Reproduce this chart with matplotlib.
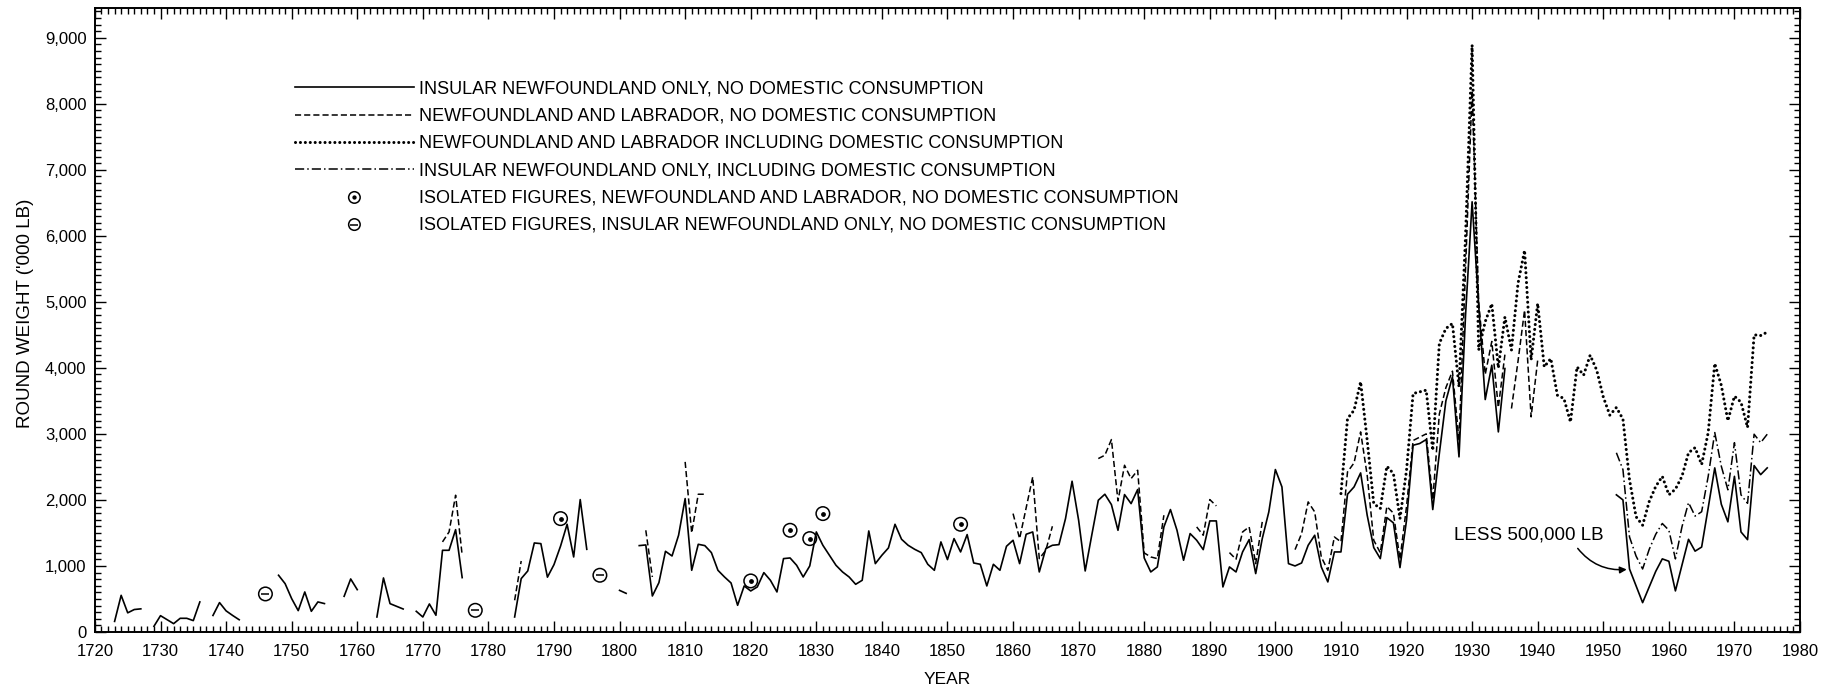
import numpy as np
import matplotlib
matplotlib.use("Agg")
import matplotlib.pyplot as plt
from matplotlib.ticker import MultipleLocator, FuncFormatter

# Insular Newfoundland only, no domestic consumption (solid)
insular_starts = [1723, 1729, 1738, 1748, 1758, 1763, 1769, 1784, 1800, 1803, 1952]
insular_vals = [
    [160, 555, 290, 340, 350],
    [86, 247, 187, 126, 207, 207, 172, 455],
    [250, 445, 320, 250, 185],
    [859, 732, 505, 323, 606, 313, 455, 430],
    [540, 803, 641],
    [227, 818, 429, 389, 348],
    [313, 227, 424, 253, 1237, 1237, 1550, 823],
    [227, 808, 924, 1348, 1338, 830, 1020, 1300, 1631, 1136, 2005, 1252],
    [630, 585],
    [1308, 1318, 545, 747, 1222, 1151, 1465, 2020, 934, 1328,
     1308, 1202, 934, 833, 742, 404, 697, 621, 682, 899,
     783, 606, 1111, 1121, 1010, 833, 1000, 1515, 1313, 1162,
     1010, 909, 833, 722, 783, 1530, 1035, 1162, 1273, 1631,
     1404, 1313, 1252, 1202, 1025, 934, 1364, 1096, 1414, 1212,
     1475, 1045, 1025, 697, 1025, 934, 1298, 1389, 1035, 1480,
     1515, 909, 1263, 1313, 1323, 1717, 2283, 1692, 924, 1465,
     1995, 2086, 1929, 1540, 2081, 1944, 2157, 1121, 909, 985,
     1591, 1854, 1540, 1086, 1490, 1389, 1247, 1682, 1682, 682,
     985, 909, 1212, 1399, 884, 1414, 1818, 2460, 2197, 1035,
     1000, 1045, 1313, 1465, 985, 758, 1212, 1212, 2086, 2197,
     2409, 1768, 1278, 1111, 1732, 1652, 975, 1692, 2828, 2854,
     2914, 1854, 2700, 3500, 3864, 2652, 4800, 6515, 4950, 3520,
     4040, 3030, 3990],
    [2077, 2000, 954, 700, 444, 680, 918, 1107, 1071, 622,
     1010, 1403, 1224, 1286, 1880, 2485, 1934, 1668, 2357, 1515,
     1398, 2520, 2383, 2485],
]

# Newfoundland and Labrador, no domestic consumption (dashed)
nl_lab_starts = [1773, 1784, 1804, 1810, 1860, 1873, 1888, 1893, 1903, 1936]
nl_lab_vals = [
    [1364, 1515, 2071, 1162],
    [480, 1075],
    [1540, 833],
    [2576, 1500, 2086, 2086],
    [1793, 1414, 1880, 2348, 1111, 1237, 1601],
    [2626, 2677, 2914, 1985, 2525, 2323, 2449, 1197, 1136, 1111, 1768],
    [1591, 1465, 2005, 1909],
    [1202, 1101, 1515, 1591, 1035, 1667],
    [1247, 1490, 1970, 1818, 1136, 934, 1439, 1364, 2424, 2561,
     3030, 2374, 1389, 1200, 1900, 1800, 1100, 1900, 2900, 2950,
     3000, 2000, 3300, 3700, 3950, 2900, 5500, 8200, 5000, 3900,
     4400, 3400, 4200],
    [3384, 4100, 4874, 3258, 4116],
]

# Newfoundland and Labrador including domestic consumption (dotted)
nl_lab_dom_starts = [1910]
nl_lab_dom_vals = [
    [2096, 3232, 3358, 3788, 2904, 1944, 1869, 2510, 2399, 1717,
     2449, 3611, 3636, 3662, 2750, 4369, 4596, 4672, 3712, 6000,
     8890, 4270, 4700, 4970, 4000, 4770, 4270, 5280, 5780, 4120,
     4975, 4015, 4141, 3586, 3535, 3180, 4015, 3889, 4192, 3965,
     3560, 3283, 3400, 3224, 2306, 1745, 1617, 1974, 2204, 2357,
     2077, 2163, 2357, 2714, 2791, 2536, 3020, 4066, 3735, 3199,
     3571, 3480, 3097, 4500, 4490, 4541],
]

# Insular Newfoundland only, including domestic consumption (dash-dot)
insular_dom_starts = [1952]
insular_dom_vals = [
    [2714, 2459, 1439, 1150, 954, 1250, 1480, 1643, 1541, 1107,
     1592, 1959, 1755, 1821, 2357, 3020, 2510, 2153, 2867, 2077,
     1949, 2995, 2867, 2995],
]

# isolated figures
iso_nl_lab_years = [1791, 1820, 1826, 1829, 1831, 1852]
iso_nl_lab_vals = [1717, 773, 1540, 1414, 1793, 1631]
iso_insular_years = [1746, 1778, 1797]
iso_insular_vals = [576, 328, 859]

labels = [
    "INSULAR NEWFOUNDLAND ONLY, NO DOMESTIC CONSUMPTION",
    "NEWFOUNDLAND AND LABRADOR, NO DOMESTIC CONSUMPTION",
    "NEWFOUNDLAND AND LABRADOR INCLUDING DOMESTIC CONSUMPTION",
    "INSULAR NEWFOUNDLAND ONLY, INCLUDING DOMESTIC CONSUMPTION",
    "ISOLATED FIGURES, NEWFOUNDLAND AND LABRADOR, NO DOMESTIC CONSUMPTION",
    "ISOLATED FIGURES, INSULAR NEWFOUNDLAND ONLY, NO DOMESTIC CONSUMPTION",
]


def join_segments(starts, vals):
    # put the segments after one another with NaN gaps between them
    xs, ys = [], []
    for s, v in zip(starts, vals):
        xs.extend(range(s, s + len(v)))
        ys.extend(v)
        xs.append(np.nan)
        ys.append(np.nan)
    return np.array(xs, dtype=float), np.array(ys, dtype=float)


plt.rcParams["font.family"] = ["Liberation Sans", "DejaVu Sans"]

fig = plt.figure(figsize=(18.36, 6.9), dpi=100)
ax = fig.add_axes([0.0517, 0.0841, 0.9287, 0.9043])

x, y = join_segments(insular_starts, insular_vals)
l1, = ax.plot(x, y, color="black", lw=1.2, ls="-")

x, y = join_segments(nl_lab_starts, nl_lab_vals)
l2, = ax.plot(x, y, color="black", lw=1.1, ls=(0, (4, 2)))

x, y = join_segments(nl_lab_dom_starts, nl_lab_dom_vals)
l3, = ax.plot(x, y, color="black", lw=2.2, ls=(0, (0.01, 1.6)),
              dash_capstyle="round")

x, y = join_segments(insular_dom_starts, insular_dom_vals)
l4, = ax.plot(x, y, color="black", lw=1.1, ls=(0, (6, 2, 1, 2)))

c1 = ax.scatter(iso_nl_lab_years, iso_nl_lab_vals, s=95, facecolors="none",
                edgecolors="black", linewidths=1.1, zorder=3)
d1 = ax.scatter(iso_nl_lab_years, iso_nl_lab_vals, s=6, color="black", zorder=3)
c2 = ax.scatter(iso_insular_years, iso_insular_vals, s=95, facecolors="none",
                edgecolors="black", linewidths=1.1, zorder=3)
d2 = ax.scatter(iso_insular_years, iso_insular_vals, s=40, marker="_",
                color="black", linewidths=1.1, zorder=3)

ax.set_xlim(1720, 1980)
ax.set_ylim(0, 9450)
ax.xaxis.set_major_locator(MultipleLocator(10))
ax.xaxis.set_minor_locator(MultipleLocator(1))
ax.yaxis.set_major_locator(MultipleLocator(1000))
ax.yaxis.set_minor_locator(MultipleLocator(100))
ax.yaxis.set_major_formatter(FuncFormatter(lambda v, p: f"{int(v):,}"))
ax.tick_params(which="both", direction="in", top=True, right=True,
               labelsize=12, width=1.0)
ax.tick_params(axis="x", pad=9)
ax.tick_params(axis="y", pad=6)
ax.tick_params(which="major", length=8)
ax.tick_params(which="minor", length=4)
for sp in ax.spines.values():
    sp.set_linewidth(1.4)

ax.set_xlabel("YEAR", fontsize=12.5)
ax.set_ylabel("ROUND WEIGHT ('000 LB)", fontsize=13.5)
ax.xaxis.set_label_coords(0.5, -0.064)
ax.yaxis.set_label_coords(-0.036, 0.51)

ax.annotate("LESS 500,000 LB", xy=(1954, 950), xytext=(1938.7, 1470),
            ha="center", va="center", fontsize=13.5,
            arrowprops=dict(arrowstyle="-|>", color="black", lw=1.1,
                            connectionstyle="arc3,rad=0.3",
                            relpos=(0.8, 0.0), mutation_scale=10))

leg = ax.legend([l1, l2, l3, l4, (c1, d1), (c2, d2)], labels,
                loc="upper left", bbox_to_anchor=(0.113, 0.895),
                frameon=False, prop={"size": 13},
                handlelength=6.6, handletextpad=0.3, labelspacing=0.56,
                borderaxespad=0, markerscale=0.85)

fig.savefig("out.png", dpi=100)
